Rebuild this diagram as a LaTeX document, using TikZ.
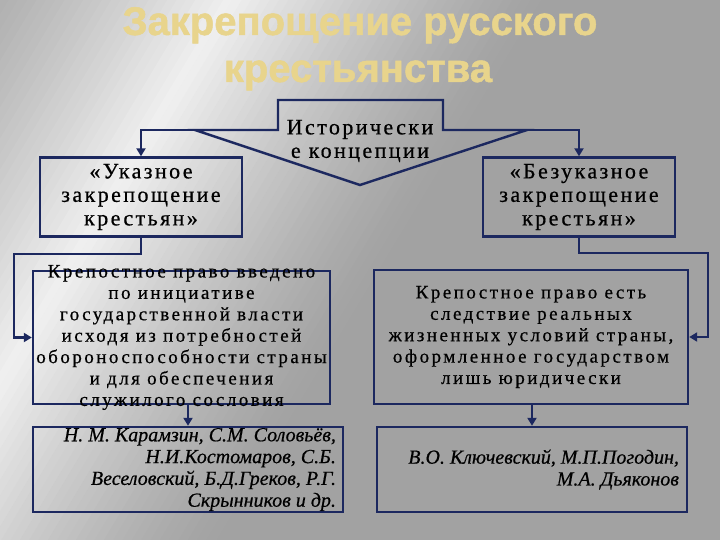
\documentclass[tikz,border=0pt]{standalone}
\usepackage{fontspec}
\setmainfont{Liberation Serif}
\newfontfamily\spacedA[LetterSpace=11,FakeBold=0.6]{Liberation Serif}
\newfontfamily\spacedB[LetterSpace=13,FakeBold=0.6]{Liberation Serif}
\newfontfamily\itfont[FakeBold=0.5]{Liberation Serif Italic}
\newfontfamily\titlefont[FakeBold=1.2]{Liberation Sans Bold}
\usetikzlibrary{arrows.meta,calc}
\definecolor{navy}{RGB}{28,40,95}
\definecolor{titlecol}{RGB}{232,212,140}
\definecolor{bggray}{RGB}{162,162,162}
\definecolor{bglight}{RGB}{240,240,240}
\begin{document}
\begin{tikzpicture}[x=1pt,y=-1pt,
  box/.style={draw=navy, line width=2.4pt, inner sep=0pt},
  arr/.style={draw=navy, line width=2.4pt, -{Triangle[length=8pt,width=9pt]}},
  txtA/.style={font=\spacedA\fontsize{22}{23.5}\selectfont, align=center, inner sep=0pt, text=black},
  txtB/.style={font=\spacedB\fontsize{19}{21.4}\selectfont, align=center, inner sep=0pt, text=black},
  itx/.style={font=\itfont\fontsize{20}{21.8}\selectfont, align=right, inner sep=0pt, text=black},
  ttl/.style={font=\titlefont\fontsize{40}{42}\selectfont, inner sep=0pt, anchor=base, text=titlecol},
]
\useasboundingbox (0,0) rectangle (720,540);
% background
\begin{scope}
  \clip (0,0) rectangle (720,540);
  \fill[bggray] (0,0) rectangle (720,540);
  \begin{scope}[shift={(110,200)}, rotate=59]
    \foreach \s in {-270,-262,...,262}{
      \pgfmathsetmacro\tt{100*(max(0,1-abs(\s+4)/270))^1.3}
      \fill[bglight!\tt!bggray] (-800,\s) rectangle (800,\s+8.6);
    }
  \end{scope}
\end{scope}
% title
\node[ttl] (t1) at (360,35) {Закрепощение русского};
\node[ttl] (t2) at (358,82) {крестьянства};
% central arrow shape
\draw[navy, line width=2.4pt, line join=miter]
  (278,100) -- (443,100) -- (443,130) -- (527,130) -- (360,185) -- (195,130) -- (278,130) -- cycle;
\coordinate (hl) at (195,130);
\coordinate (hr) at (527,130);
\node[txtA] (hist) at (360,141) {Исторически\\е концепции};
% boxes
\node[box, minimum width=202pt, minimum height=79pt] (ukaz) at (141,197) {};
\node[txtA] (ukazt) at (ukaz) {«Указное\\закрепощение\\крестьян»};
\node[box, minimum width=192pt, minimum height=79pt] (bezu) at (579,197) {};
\node[txtA] (bezut) at (bezu) {«Безуказное\\закрепощение\\крестьян»};
\node[box, minimum width=297pt, minimum height=133pt] (k1) at (181.5,337.5) {};
\node[txtB] (k1t) at (k1) {Крепостное право введено\\по инициативе\\государственной власти\\исходя из потребностей\\обороноспособности страны\\и для обеспечения\\служилого сословия};
\node[box, minimum width=314pt, minimum height=134pt] (k2) at (531,337) {};
\node[txtB] (k2t) at (k2) {Крепостное право есть\\следствие реальных\\жизненных условий страны,\\оформленное государством\\лишь юридически};
\node[box, minimum width=310pt, minimum height=85pt] (a1) at (188,469.5) {};
\node[itx, anchor=east] (a1t) at ($(a1.east)+(-8,0)$) {Н. М. Карамзин, С.М. Соловьёв,\\Н.И.Костомаров, С.Б.\\Веселовский, Б.Д.Греков, Р.Г.\\Скрынников и др.};
\node[box, minimum width=310pt, minimum height=85pt] (a2) at (532,469.5) {};
\node[itx, anchor=east] (a2t) at ($(a2.east)+(-9,0)$) {В.О. Ключевский, М.П.Погодин,\\М.А. Дьяконов};
% connectors
\draw[arr] (hl) -| (ukaz.north);
\draw[arr] (hr) -| (bezu.north);
\draw[arr] (ukaz.south) -- ++(0,16) -| ($(k1.west)+(-18,0)$) -- (k1.west);
\draw[arr] (bezu.south) -- ++(0,15) -| ($(k2.east)+(19,0)$) -- (k2.east);
\draw[arr] (k1.south -| a1.north) -- (a1.north);
\draw[arr] (k2.south -| a2.north) -- (a2.north);
\end{tikzpicture}
\end{document}
